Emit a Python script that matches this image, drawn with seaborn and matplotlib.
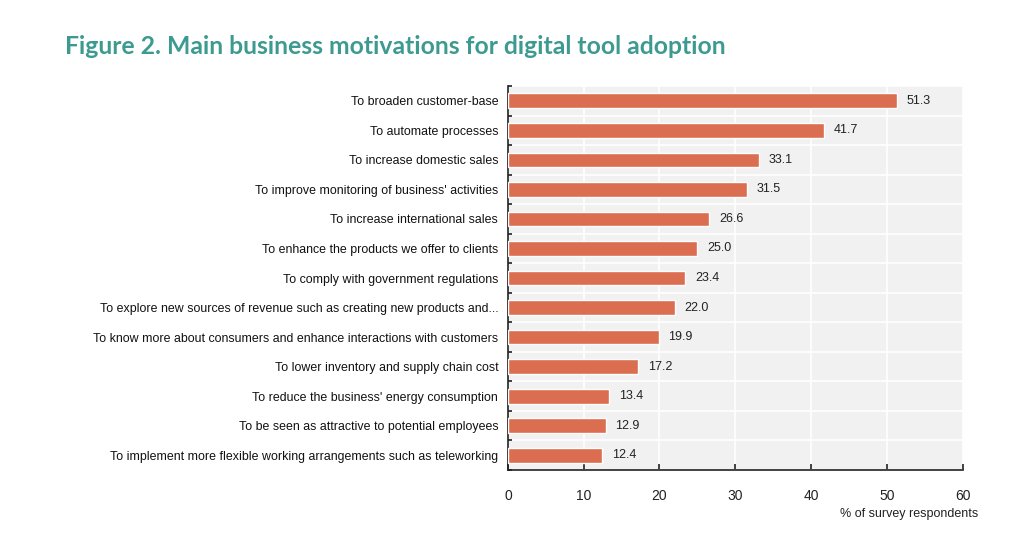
import matplotlib
matplotlib.use("Agg")
import matplotlib.pyplot as plt
import seaborn as sns
import pandas as pd
import numpy as np

categories = [
    "To broaden customer-base",
    "To automate processes",
    "To increase domestic sales",
    "To improve monitoring of business' activities",
    "To increase international sales",
    "To enhance the products we offer to clients",
    "To comply with government regulations",
    "To explore new sources of revenue such as creating new products and...",
    "To know more about consumers and enhance interactions with customers",
    "To lower inventory and supply chain cost",
    "To reduce the business' energy consumption",
    "To be seen as attractive to potential employees",
    "To implement more flexible working arrangements such as teleworking",
]
values = [51.3, 41.7, 33.1, 31.5, 26.6, 25.0, 23.4, 22.0, 19.9, 17.2, 13.4, 12.9, 12.4]
x_ticks = [0, 10, 20, 30, 40, 50, 60]

df = pd.DataFrame({"motivation": categories, "pct": values})

sns.set_theme(style="white")
plt.rcParams["font.family"] = ["Liberation Sans", "DejaVu Sans"]

fig = plt.figure(figsize=(10.24, 5.5), dpi=100)
ax = fig.add_axes([0.496, 0.1455, 0.444, 0.698])
ax.set_facecolor("#f1f1f1")

sns.barplot(data=df, x="pct", y="motivation", color="#db6d50", width=0.5,
            saturation=1, ax=ax, zorder=3)

for i, v in enumerate(values):
    ax.text(v + 1.3, i, f"{v:.1f}", va="center", ha="left", fontsize=9,
            color="#222222", zorder=4)

ax.set_xlim(0, 60)
ax.set_ylim(len(categories) - 0.5, -0.5)
ax.set_xticks(x_ticks)
ax.set_xticklabels([str(t) for t in x_ticks], fontsize=10)
ax.set_yticks(np.arange(len(categories)))
ax.set_yticklabels(categories, fontsize=8.9)
ax.set_yticks(np.arange(len(categories) + 1) - 0.5, minor=True)

ax.grid(axis="x", color="white", linewidth=1.2, zorder=1)
ax.grid(axis="y", which="minor", color="white", linewidth=1.2, zorder=1)
ax.set_axisbelow(True)

for s in ["top", "right"]:
    ax.spines[s].set_visible(False)
for s in ["left", "bottom"]:
    ax.spines[s].set_visible(True)
    ax.spines[s].set_color("#222222")
    ax.spines[s].set_linewidth(1.2)

ax.tick_params(axis="x", direction="in", length=4, width=1.2, color="#222222",
               pad=14, labelcolor="#222222", bottom=True)
ax.tick_params(axis="y", which="major", length=0, pad=7, labelcolor="#111111")
ax.tick_params(axis="y", which="minor", direction="in", length=3, width=1.2,
               color="#222222", left=True)

ax.set_xlabel("")
ax.set_ylabel("")
fig.text(978 / 1024, 1 - 514 / 550, "% of survey respondents", ha="right",
         va="center", fontsize=9, color="#222222")

fig.text(65 / 1024, 1 - 47 / 550,
         "Figure 2. Main business motivations for digital tool adoption",
         ha="left", va="center", fontsize=17.8, fontweight="bold",
         color="#3d9a90", family=["Lato", "DejaVu Sans"])

fig.savefig("out.png", dpi=100, facecolor="white")
